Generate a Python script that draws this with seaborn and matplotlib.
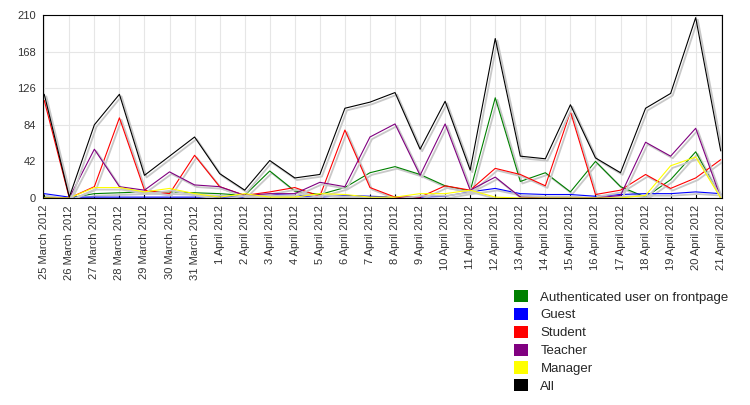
import seaborn as sns
import matplotlib.pyplot as plt
import matplotlib.patheffects as pe
from matplotlib.patches import Patch
import pandas as pd

dates = ['25 March 2012', '26 March 2012', '27 March 2012', '28 March 2012',
         '29 March 2012', '30 March 2012', '31 March 2012', '1 April 2012',
         '2 April 2012', '3 April 2012', '4 April 2012', '5 April 2012',
         '6 April 2012', '7 April 2012', '8 April 2012', '9 April 2012',
         '10 April 2012', '11 April 2012', '12 April 2012', '13 April 2012',
         '14 April 2012', '15 April 2012', '16 April 2012', '17 April 2012',
         '18 April 2012', '19 April 2012', '20 April 2012', '21 April 2012']

authenticated = [1, 0, 5, 6, 7, 7, 6, 5, 3, 31, 8, 4, 12, 29, 36, 27, 14, 8,
                 115, 19, 29, 7, 42, 13, 1, 21, 53, 0]
guest = [5, 1, 1, 1, 1, 1, 1, 1, 1, 4, 3, 1, 3, 2, 1, 1, 2, 7, 11, 5, 4, 4,
         2, 4, 5, 5, 7, 5]
student = [112, 0, 13, 92, 9, 5, 49, 13, 3, 7, 12, 2, 78, 12, 1, 1, 14, 9,
           34, 27, 14, 99, 4, 9, 27, 11, 23, 44]
teacher = [0, 0, 56, 13, 9, 30, 15, 13, 3, 5, 5, 18, 13, 70, 85, 26, 85, 9,
           24, 1, 0, 0, 0, 3, 64, 48, 80, 0]
manager = [0, 0, 12, 12, 7, 11, 5, 1, 5, 1, 1, 5, 4, 1, 1, 5, 5, 9, 1, 0, 0,
           0, 0, 0, 3, 37, 47, 0]
all_users = [119, 1, 84, 119, 26, 48, 70, 28, 9, 43, 23, 27, 103, 110, 121,
             56, 111, 32, 183, 48, 45, 107, 46, 29, 103, 120, 207, 54]

series_names = ['Authenticated user on frontpage', 'Guest', 'Student',
                'Teacher', 'Manager', 'All']
series_values = [authenticated, guest, student, teacher, manager, all_users]
colors = ['#008000', '#0000ff', '#ff0000', '#800080', '#ffff00', '#000000']

sns.set_style('white')
plt.rcParams['font.family'] = ['Liberation Sans', 'DejaVu Sans']

fig = plt.figure(figsize=(7.5, 4.05), dpi=100)
ax = fig.add_axes([43 / 750, 1 - 198 / 405, (722 - 43) / 750, (198 - 15) / 405])

rows = []
for name, vals in zip(series_names, series_values):
    for i, v in enumerate(vals):
        rows.append({'day': i, 'visits': v, 'role': name})
df = pd.DataFrame(rows)

sns.lineplot(data=df, x='day', y='visits', hue='role', hue_order=series_names,
             palette=colors, linewidth=0.8, legend=False, ax=ax)

# light gray drop shadow under every line
shadow = [pe.SimpleLineShadow(offset=(1.5, -1.5), shadow_color='#c8c8c8',
                              alpha=1, linewidth=1.3), pe.Normal()]
for line in ax.lines:
    line.set_path_effects(shadow)

ax.set_xlim(-0.05, 27.05)
ax.set_ylim(0, 210)
ax.set_yticks([0, 42, 84, 126, 168, 210])
ax.set_xticks(range(len(dates)))
ax.set_xticklabels(dates, rotation=90)
ax.set_xlabel('')
ax.set_ylabel('')

ax.grid(True, color='#e6e6e6', linewidth=0.8)
ax.set_axisbelow(True)
for s in ax.spines.values():
    s.set_color('black')
    s.set_linewidth(0.8)

ax.tick_params(axis='x', direction='in', length=3, width=0.8, color='black',
               labelsize=8, labelcolor='#333333', pad=5, bottom=True)
ax.tick_params(axis='y', length=0, labelsize=8, labelcolor='#333333', pad=5)

handles = [Patch(facecolor=c, edgecolor='none') for c in colors]
fig.legend(handles, series_names, loc='upper left',
           bbox_to_anchor=(514 / 750, 1 - 290 / 405), frameon=False,
           fontsize=9.5, handlelength=1.05, handleheight=1.05,
           handletextpad=0.95, labelspacing=0.32, borderpad=0,
           borderaxespad=0)

fig.savefig('out.png', dpi=100)
